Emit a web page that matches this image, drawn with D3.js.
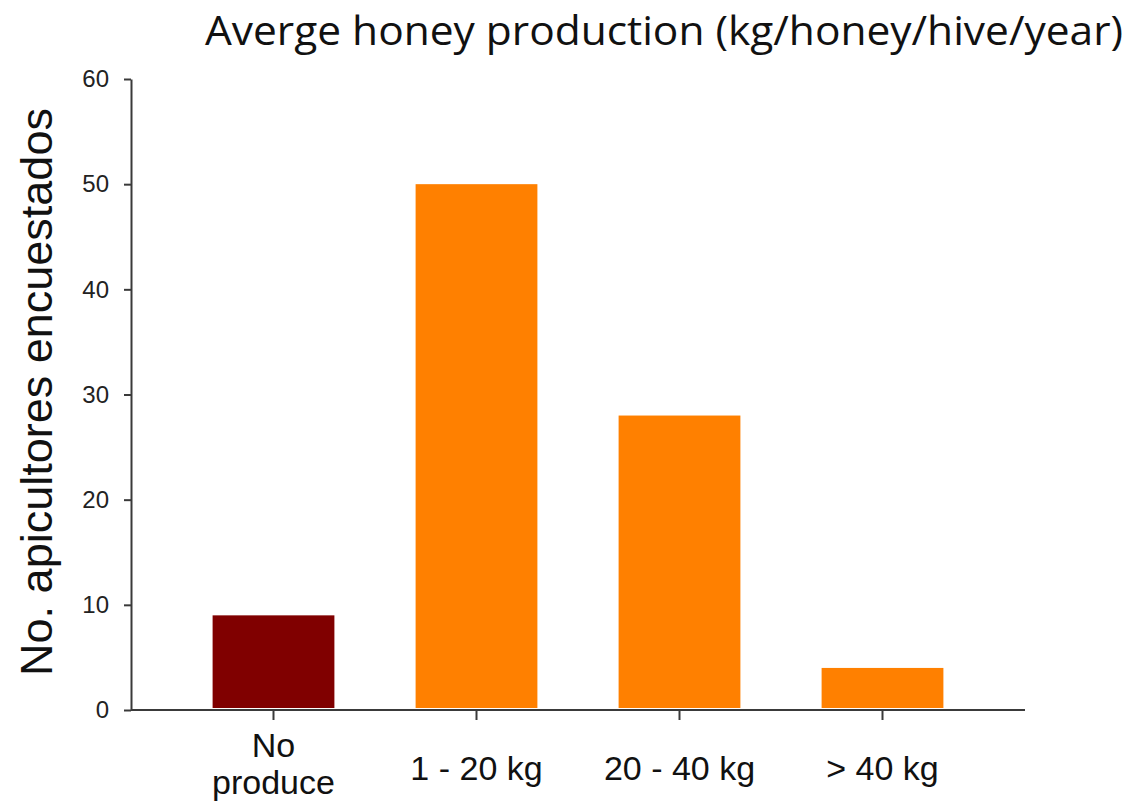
<!DOCTYPE html>
<meta charset="utf-8">
<body style="margin:0;background:#fff">
<script src="https://d3js.org/d3.v7.min.js"></script>
<script>

var categories = [['No', 'produce'], ['1 - 20 kg'], ['20 - 40 kg'], ['> 40 kg']]
var values = [9, 50, 28, 4]
var colors = ['#800000', '#ff8000', '#ff8000', '#ff8000']
var yTicks = [0, 10, 20, 30, 40, 50, 60]

var W = 1131, H = 804
var svg = d3.select('body').append('svg')
    .attr('width', W).attr('height', H)

var keys = categories.map(c => c.join(' '))

var x = d3.scaleBand().domain(keys)
    .range([172, 984])
    .paddingInner(0.4).paddingOuter(0.2)
var y = d3.scaleLinear().domain([0, 60]).range([710, 79])

// bars
svg.selectAll('rect.bar')
  .data(values)
  .enter().append('rect')
    .attr('class', 'bar')
    .attr('x', (d, i) => x(keys[i]))
    .attr('width', x.bandwidth())
    .attr('y', d => y(d))
    .attr('height', d => y(0) - y(d) - 2)
    .attr('fill', (d, i) => colors[i])

// y axis
var gy = svg.append('g').attr('transform', 'translate(131,0)')
  .call(d3.axisLeft(y).tickValues(yTicks).tickSize(7).tickPadding(15).tickSizeOuter(0))
gy.attr('font-size', 24).attr('font-family', 'Liberation Sans, Arial, sans-serif')
gy.select('.domain').attr('stroke', '#3a3a3a').attr('stroke-width', 2)
gy.selectAll('.tick line').attr('stroke', '#3a3a3a').attr('stroke-width', 2)
gy.selectAll('.tick text')
  .attr('font-size', 24).attr('fill', '#222')

// x axis
var gx = svg.append('g').attr('transform', 'translate(0,710)')
  .call(d3.axisBottom(x).tickSize(10).tickSizeOuter(0).tickFormat(''))
gx.select('.domain').attr('d', 'M131,0H1025').attr('stroke', '#3a3a3a').attr('stroke-width', 2)
gx.selectAll('.tick line').attr('stroke', '#3a3a3a').attr('stroke-width', 2)

categories.forEach((c, i) => {
  var cx = x(keys[i]) + x.bandwidth() / 2
  var y0 = c.length > 1 ? 757 : 780
  c.forEach((line, j) => {
    svg.append('text')
      .attr('x', cx).attr('y', y0 + j * 37)
      .attr('text-anchor', 'middle')
      .attr('font-family', 'Liberation Sans, Arial, sans-serif')
      .attr('font-size', 34).attr('fill', '#111')
      .text(line)
  })
})

// y title
svg.append('text')
  .attr('transform', 'translate(52,392) rotate(-90)')
  .attr('text-anchor', 'middle')
  .attr('font-family', 'Liberation Sans, Arial, sans-serif')
  .attr('font-size', 45).attr('fill', '#111')
  .text('No. apicultores encuestados')

// title
svg.append('text')
  .attr('x', 205).attr('y', 45)
  .attr('font-family', 'Open Sans, Noto Sans, sans-serif')
  .attr('font-size', 40).attr('fill', '#111')
  .attr('textLength', 918).attr('lengthAdjust', 'spacingAndGlyphs')
  .text('Averge honey production (kg/honey/hive/year)')

</script>
</body>
